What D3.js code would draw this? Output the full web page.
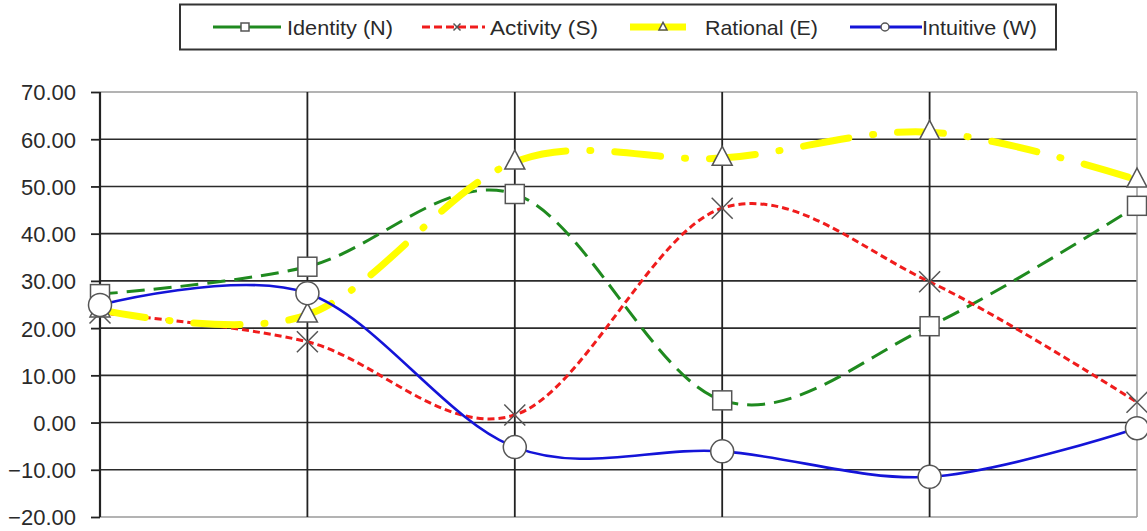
<!DOCTYPE html>
<html>
<head>
<meta charset="utf-8">
<script src="https://cdn.jsdelivr.net/npm/d3@7"></script>
<style>
  html, body { margin: 0; padding: 0; background: #fff; }
  svg { display: block; }
  text { font-family: "Liberation Sans", Arial, sans-serif; }
</style>
</head>
<body>
<svg id="chart" width="1147" height="531"></svg>
<script>
// ---- data ----
const categories = ["1", "2", "3", "4", "5", "6"];
const identityN  = [27.2, 33.0, 48.4, 4.7, 20.4, 45.9];
const activityS  = [23.2, 17.1, 1.6, 45.4, 29.8, 4.3];
const rationalE  = [23.9, 22.8, 55.2, 56.0, 61.5, 51.4];
const intuitiveW = [24.9, 27.4, -5.2, -6.1, -11.5, -1.2];
const yTicks = [70, 60, 50, 40, 30, 20, 10, 0, -10, -20];
const seriesNames = ["Identity (N)", "Activity (S)", "Rational (E)", "Intuitive (W)"];

const series = [
  { name: seriesNames[0], values: identityN,  color: "#1f8a1f", width: 3,   dash: "18,9",        cap: "butt",  marker: "square" },
  { name: seriesNames[1], values: activityS,  color: "#f01c1c", width: 3,   dash: "7,4",         cap: "butt",  marker: "x" },
  { name: seriesNames[2], values: rationalE,  color: "#ffff00", width: 7,   dash: "46,24,1,24",  cap: "round", marker: "triangle" },
  { name: seriesNames[3], values: intuitiveW, color: "#1414d8", width: 2.6, dash: null,          cap: "butt",  marker: "circle" }
];

const svg = d3.select("#chart");
const pLeft = 100, pRight = 1137, pTop = 92, pBottom = 517;

const x = d3.scalePoint().domain(categories).range([pLeft, pRight]);
const y = d3.scaleLinear().domain([-20, 70]).range([pBottom, pTop]);

// ---- gridlines ----
const grid = svg.append("g");
grid.selectAll("line.h").data(yTicks).join("line")
  .attr("x1", pLeft).attr("x2", pRight)
  .attr("y1", d => y(d)).attr("y2", d => y(d))
  .attr("stroke", d => (d === 70 || d === -20) ? "#9a9a9a" : "#2b2b2b")
  .attr("stroke-width", d => (d === 70 || d === -20) ? 1.5 : 1.6);

grid.selectAll("line.v").data(categories).join("line")
  .attr("x1", d => x(d)).attr("x2", d => x(d))
  .attr("y1", pTop).attr("y2", pBottom)
  .attr("stroke", (d, i) => i === categories.length - 1 ? "#9a9a9a" : "#222")
  .attr("stroke-width", (d, i) => i === 0 ? 2.2 : (i === categories.length - 1 ? 1.5 : 1.8));

// ---- y axis ----
const yAxis = d3.axisLeft(y).tickValues(yTicks).tickSize(9).tickPadding(15)
  .tickFormat(d3.format(".2f"));
const ya = svg.append("g").attr("transform", `translate(${pLeft},0)`).call(yAxis);
ya.select(".domain").remove();
ya.selectAll(".tick line").attr("stroke", "#222").attr("stroke-width", 1.8);
ya.selectAll(".tick text")
  .attr("fill", "#2a2a2a")
  .style("font-size", "22px")
  .style("font-family", "'Liberation Sans', Arial, sans-serif")
  .attr("dy", "0.36em");

// ---- markers ----
function drawMarker(g, type, cx, cy, s) {
  const stroke = "#555", sw = 1.5;
  if (type === "square") {
    g.append("rect").attr("x", cx - s / 2).attr("y", cy - s / 2)
      .attr("width", s).attr("height", s)
      .attr("fill", "#fff").attr("stroke", stroke).attr("stroke-width", sw);
  } else if (type === "circle") {
    g.append("circle").attr("cx", cx).attr("cy", cy).attr("r", s / 2)
      .attr("fill", "#fff").attr("stroke", stroke).attr("stroke-width", sw);
  } else if (type === "triangle") {
    const h = s * 0.95;
    g.append("path")
      .attr("d", `M${cx},${cy - h * 0.62}L${cx + s / 2},${cy + h * 0.38}L${cx - s / 2},${cy + h * 0.38}Z`)
      .attr("fill", "#fff").attr("stroke", stroke).attr("stroke-width", sw);
  } else if (type === "x") {
    const r = s / 2;
    g.append("path")
      .attr("d", `M${cx - r},${cy - r}L${cx + r},${cy + r}M${cx - r},${cy + r}L${cx + r},${cy - r}`)
      .attr("fill", "none").attr("stroke", stroke).attr("stroke-width", sw);
  }
}

const markerSize = { square: 19, circle: 23, triangle: 20, x: 21 };

// ---- lines ----
const line = d3.line()
  .x((d, i) => x(categories[i]))
  .y(d => y(d))
  .curve(d3.curveCardinal.tension(0));

series.forEach(s => {
  const g = svg.append("g");
  g.append("path")
    .attr("d", line(s.values))
    .attr("fill", "none")
    .attr("stroke", s.color)
    .attr("stroke-width", s.width)
    .attr("stroke-linecap", s.cap)
    .attr("stroke-dasharray", s.dash);
  s.values.forEach((v, i) => drawMarker(g, s.marker, x(categories[i]), y(v), markerSize[s.marker]));
});

// ---- legend ----
const lg = svg.append("g");
lg.append("rect").attr("x", 180).attr("y", 4.5).attr("width", 876).attr("height", 45)
  .attr("fill", "#fff").attr("stroke", "#333").attr("stroke-width", 2);

const legendItems = [
  { lx1: 213, lx2: 281, mx: 245, tx: 287, tw: 106 },
  { lx1: 422, lx2: 485, mx: 457, tx: 490, tw: 108 },
  { lx1: 630, lx2: 686, mx: 663, tx: 705, tw: 113 },
  { lx1: 850, lx2: 922, mx: 885, tx: 922, tw: 115 }
];
const legendMarkerSize = { square: 8, circle: 8, triangle: 8, x: 7 };
const ly = 27;
series.forEach((s, i) => {
  const it = legendItems[i];
  const g = lg.append("g");
  g.append("line").attr("x1", it.lx1).attr("x2", it.lx2).attr("y1", ly).attr("y2", ly)
    .attr("stroke", s.color)
    .attr("stroke-width", s.marker === "triangle" ? 7 : 3)
    .attr("stroke-dasharray", s.marker === "x" ? "8,4" : null);
  drawMarker(g, s.marker, it.mx, ly, legendMarkerSize[s.marker]);
  g.append("text").attr("x", it.tx).attr("y", ly + 8)
    .attr("fill", "#2a2a2a")
    .style("font-size", "21px")
    .attr("textLength", it.tw).attr("lengthAdjust", "spacingAndGlyphs")
    .text(s.name);
});
</script>
</body>
</html>
